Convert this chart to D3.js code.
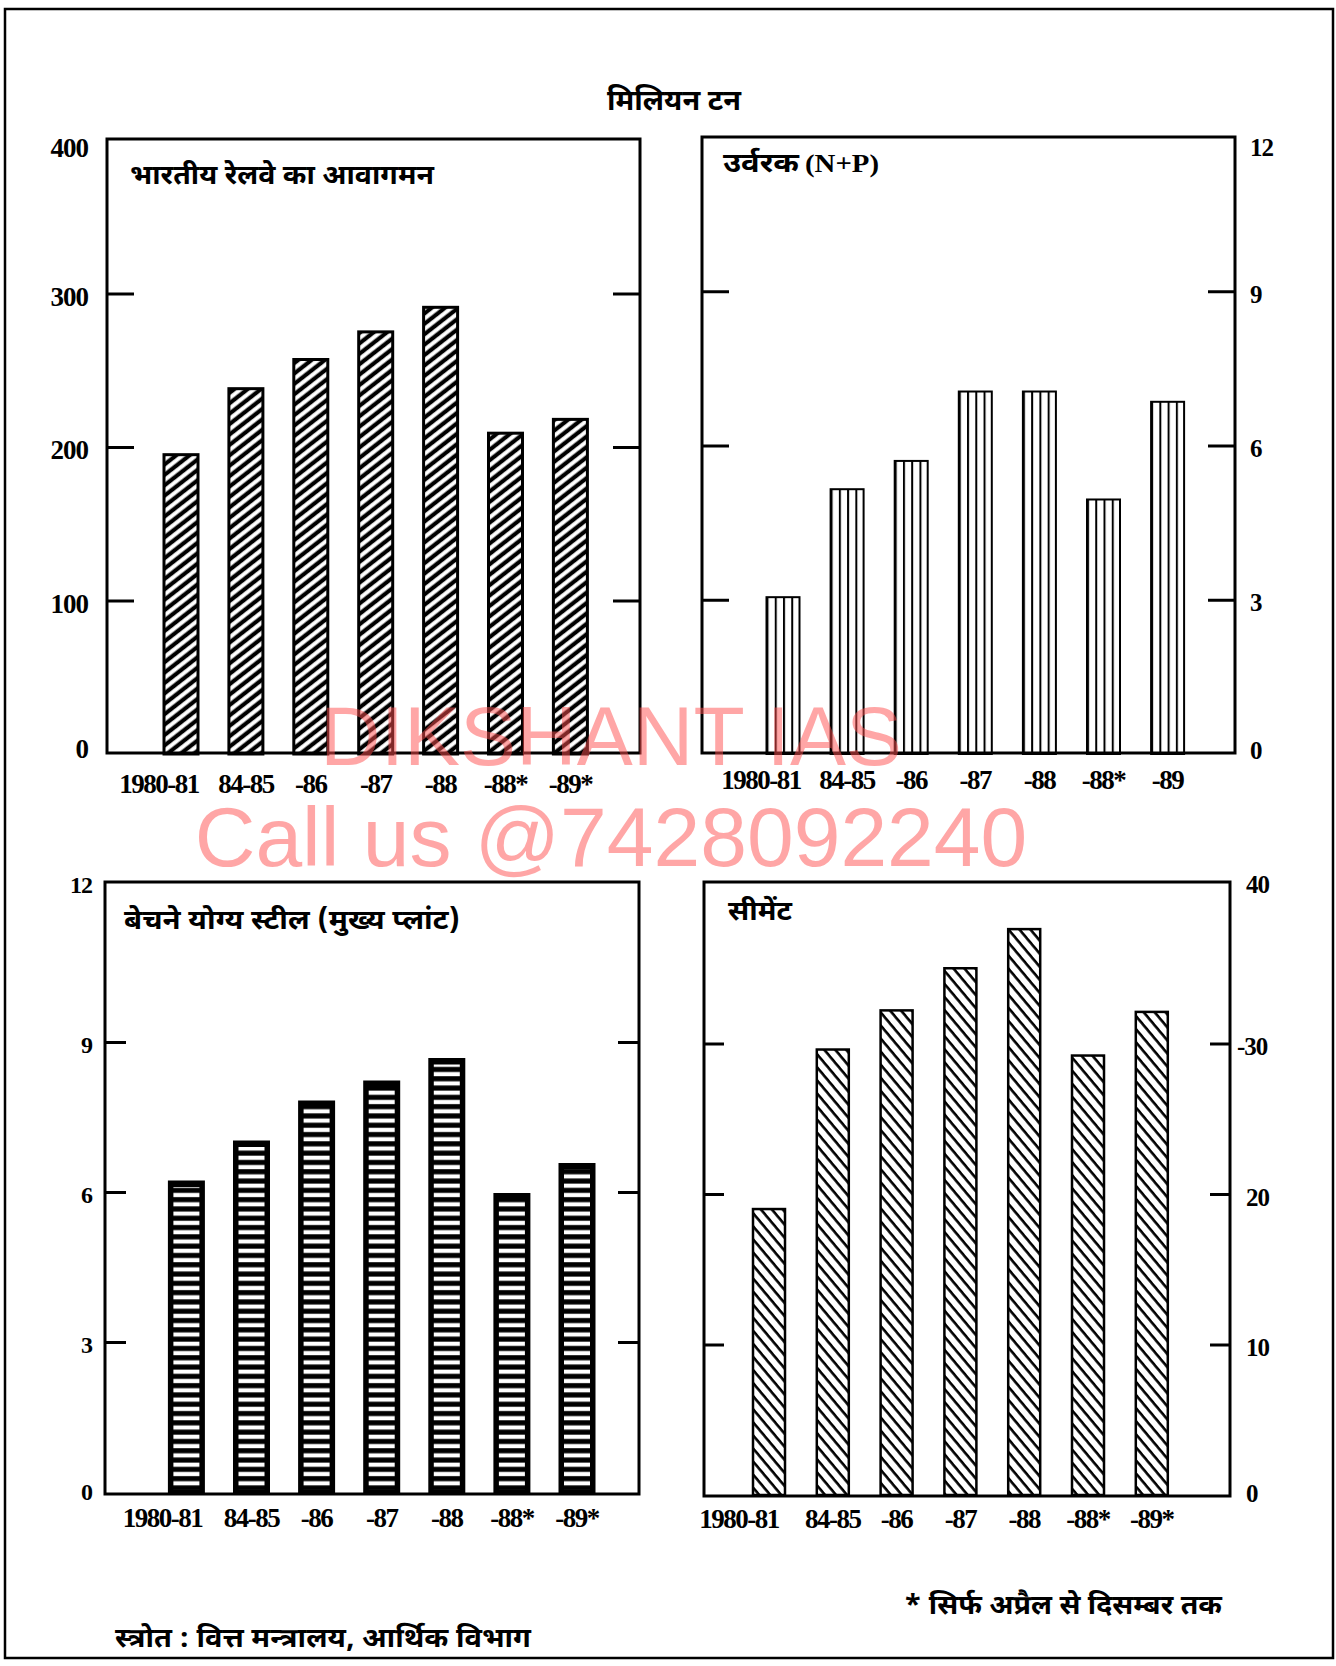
<!DOCTYPE html>
<html><head><meta charset="utf-8">
<script src="https://cdn.jsdelivr.net/npm/d3@7"></script>
<style>body{margin:0;background:#fff}</style>
</head><body><svg id="c" width="1336" height="1666"></svg>
<script>
// ---------------- DATA ----------------
const years = ["1980-81","1984-85","1985-86","1986-87","1987-88","1987-88*","1988-89*"];
const railLabels   = ["1980-81","84-85","-86","-87","-88","-88*","-89*"];
const fertLabels   = ["1980-81","84-85","-86","-87","-88","-88*","-89"];
const steelLabels  = ["1980-81","84-85","-86","-87","-88","-88*","-89*"];
const cementLabels = ["1980-81","84-85","-86","-87","-88","-88*","-89*"];

const railValues   = [195, 238, 257, 275, 291, 209, 218];
const fertValues   = [3.05, 5.15, 5.7, 7.05, 7.05, 4.95, 6.85];
const steelValues  = [6.2, 7.0, 7.8, 8.2, 8.65, 5.95, 6.55];
const cementValues = [19.0, 29.6, 32.2, 35.0, 37.6, 29.2, 32.1];

const railTicks   = [0, 100, 200, 300, 400];
const fertTicks   = [0, 3, 6, 9, 12];
const steelTicks  = [0, 3, 6, 9, 12];
const cementTicks = [0, 10, 20, 30, 40];
const railTickLabels   = ["0","100","200","300","400"];
const fertTickLabels   = ["0","3","6","9","12"];
const steelTickLabels  = ["0","3","6","9","12"];
const cementTickLabels = ["0","10","20","-30","40"];

const titleText  = "मिलियन टन";
const railTitle  = ["भारतीय रेलवे का आवागमन", ""];
const fertTitle  = ["उर्वरक", " (N+P)"];
const steelTitle = ["बेचने योग्य स्टील (मुख्य प्लांट)", ""];
const cementTitle = ["सीमेंट", ""];
const sourceText = "स्त्रोत : वित्त मन्त्रालय, आर्थिक विभाग";
const noteText   = "* सिर्फ अप्रैल से दिसम्बर तक";
const watermark1 = "DIKSHANT IAS";
const watermark2 = "Call us @7428092240";

// ---------------- LAYOUT ----------------
const svg = d3.select("#c");
const NUM = "'Liberation Serif','Times New Roman',serif";
const DEV = "'Noto Sans Devanagari','Lohit Devanagari','Noto Sans',sans-serif";

const defs = svg.append("defs");
const pUp = defs.append("pattern").attr("id","pUp").attr("patternUnits","userSpaceOnUse")
  .attr("width",12).attr("height",8.2).attr("patternTransform","rotate(-38)");
pUp.append("rect").attr("width",12).attr("height",8.2).attr("fill","#000");
pUp.append("rect").attr("y",2).attr("width",12).attr("height",4).attr("fill","#fff");
const pV = defs.append("pattern").attr("id","pV").attr("patternUnits","objectBoundingBox")
  .attr("width",0.25).attr("height",1);
pV.append("rect").attr("width",40).attr("height",2000).attr("fill","#fff");
pV.append("rect").attr("x",0).attr("width",2).attr("height",2000).attr("fill","#000");
const pH = defs.append("pattern").attr("id","pH").attr("patternUnits","userSpaceOnUse")
  .attr("width",20).attr("height",9.3);
pH.append("rect").attr("width",20).attr("height",9.3).attr("fill","#000");
pH.append("rect").attr("y",2.5).attr("width",20).attr("height",4.2).attr("fill","#fff");
const pDn = defs.append("pattern").attr("id","pDn").attr("patternUnits","userSpaceOnUse")
  .attr("width",12).attr("height",8.4).attr("patternTransform","rotate(50)");
pDn.append("rect").attr("width",12).attr("height",8.4).attr("fill","#fff");
pDn.append("rect").attr("y",0).attr("width",12).attr("height",2.6).attr("fill","#000");

svg.append("rect").attr("x",5).attr("y",9).attr("width",1328).attr("height",1649)
  .attr("fill","none").attr("stroke","#000").attr("stroke-width",2.5);

svg.append("text").attr("x",674).attr("y",110).attr("text-anchor","middle")
  .attr("font-family",DEV).attr("font-weight","bold").attr("font-size",28)
  .attr("textLength",134).attr("lengthAdjust","spacingAndGlyphs")
  .text(titleText);

const panels = [
  {values:railValues, labels:railLabels, ticks:railTicks, tickLabels:railTickLabels, title:railTitle,
   box:[107,139,640,753], yr:[754,140], side:"left", c0:181, step:64.9, bw:34, fill:"url(#pUp)", sw:3,
   tickLen:27, tickPad:19, tickFont:27, maxDy:8, zeroDy:-5, xlabY:784, firstDx:-22,
   titleX:130, titleY:184, titleW:304, inset:false},
  {values:fertValues, labels:fertLabels, ticks:fertTicks, tickLabels:fertTickLabels, title:fertTitle,
   box:[702,137,1235,753], yr:[754,137], side:"right", c0:783, step:64.1, bw:33, fill:"url(#pV)", sw:2,
   tickLen:27, tickPad:15, tickFont:25, maxDy:10, zeroDy:-4, xlabY:780, firstDx:-22,
   titleX:723, titleY:172, titleW:76, inset:false},
  {values:steelValues, labels:steelLabels, ticks:steelTicks, tickLabels:steelTickLabels, title:steelTitle,
   box:[105,882,639,1494], yr:[1492,892], side:"left", c0:186.4, step:65.1, bw:34, fill:"#000", sw:3,
   tickLen:21, tickPad:13, tickFont:24, maxDy:-7, zeroDy:0, xlabY:1518, firstDx:-24,
   titleX:124, titleY:929, titleW:336, inset:true},
  {values:cementValues, labels:cementLabels, ticks:cementTicks, tickLabels:cementTickLabels, title:cementTitle,
   box:[704,882,1230,1496], yr:[1495,893], side:"right", c0:769, step:63.8, bw:32, fill:"url(#pDn)", sw:2.5,
   tickLen:20, tickPad:16, tickFont:25, maxDy:-9, zeroDy:-2, xlabY:1519, firstDx:-30,
   titleX:728, titleY:920, titleW:64, inset:false}
];

panels.forEach(p => {
  const [bx0,by0,bx1,by1] = p.box;
  const y = d3.scaleLinear().domain([0, p.ticks[p.ticks.length-1]]).range(p.yr);
  const pad = 1 - p.bw/p.step;
  const r0 = p.c0 - p.step/2;
  const x = d3.scaleBand().domain(years).range([r0, r0 + p.step*years.length])
    .paddingInner(pad).paddingOuter(pad/2);
  const g = svg.append("g");

  const bars = g.selectAll("g.bar").data(p.values).join("g").attr("class","bar");
  bars.append("rect")
    .attr("x",(d,i)=>x(years[i])).attr("width",x.bandwidth())
    .attr("y",d=>y(d)).attr("height",d=>p.yr[0]-y(d))
    .attr("fill",p.fill).attr("stroke","#000").attr("stroke-width",p.sw);
  if (p.inset) {
    bars.append("rect")
      .attr("x",(d,i)=>x(years[i])+4).attr("width",x.bandwidth()-8)
      .attr("y",d=>y(d)+5).attr("height",d=>Math.max(0,p.yr[0]-y(d)-7))
      .attr("fill","url(#pH)");
  }

  const maxV = p.ticks[p.ticks.length-1];
  const lab = (d)=>p.tickLabels[p.ticks.indexOf(d)];
  const mainAxis = (p.side==="left" ? d3.axisLeft(y) : d3.axisRight(y))
    .tickValues(p.ticks).tickSize(-p.tickLen).tickPadding(p.tickPad).tickFormat(lab);
  const otherAxis = (p.side==="left" ? d3.axisRight(y) : d3.axisLeft(y))
    .tickValues(p.ticks).tickSize(-p.tickLen).tickFormat("");
  const gm = g.append("g").attr("transform",`translate(${p.side==="left"?bx0:bx1},0)`).call(mainAxis);
  const go = g.append("g").attr("transform",`translate(${p.side==="left"?bx1:bx0},0)`).call(otherAxis);
  [gm,go].forEach(a=>{
    a.select(".domain").remove();
    a.selectAll(".tick line").attr("stroke","#000").attr("stroke-width",3)
      .attr("display",d=>(d===0||d===maxV)?"none":null);
  });
  gm.selectAll(".tick text").attr("font-family",NUM).attr("font-weight","bold")
    .attr("font-size",p.tickFont).attr("letter-spacing",-1).attr("fill","#000")
    .attr("dy",d=> d===maxV ? `${0.32*p.tickFont+p.maxDy}px` : d===0 ? `${0.32*p.tickFont+p.zeroDy}px` : `${0.32*p.tickFont+3}px`)
    .attr("dx",function(d){ return (p.side==="right" && lab(d).startsWith("-")) ? -9 : 0; });

  const xa = d3.axisBottom(x).tickSize(0).tickFormat((d)=>p.labels[years.indexOf(d)]);
  const gx = g.append("g").attr("transform",`translate(0,${p.xlabY})`).call(xa);
  gx.select(".domain").remove();
  gx.selectAll(".tick text").attr("y",0).attr("dy","0.35em")
    .attr("font-family",NUM).attr("font-weight","bold").attr("font-size",27)
    .attr("letter-spacing",-1.5).attr("fill","#000")
    .attr("dx",(d,i)=> i===0 ? p.firstDx : 0);

  g.append("rect").attr("x",bx0).attr("y",by0).attr("width",bx1-bx0).attr("height",by1-by0)
    .attr("fill","none").attr("stroke","#000").attr("stroke-width",3);

  const t = g.append("text").attr("x",p.titleX).attr("y",p.titleY)
    .attr("font-weight","bold");
  t.append("tspan").attr("font-family",DEV).attr("font-size",27)
    .attr("textLength",p.titleW).attr("lengthAdjust","spacingAndGlyphs").text(p.title[0]);
  if (p.title[1]) {
    t.append("tspan").attr("x",p.titleX + p.titleW + 6).attr("font-family",NUM)
      .attr("font-size",26).attr("textLength",74).attr("lengthAdjust","spacingAndGlyphs")
      .text(p.title[1].trim());
  }
});

svg.append("text").attr("x",115).attr("y",1647).attr("font-family",DEV).attr("font-weight","bold")
  .attr("font-size",27).attr("textLength",416).attr("lengthAdjust","spacingAndGlyphs").text(sourceText);
svg.append("text").attr("x",904).attr("y",1614).attr("font-family",DEV).attr("font-weight","bold")
  .attr("font-size",27).attr("textLength",318).attr("lengthAdjust","spacingAndGlyphs").text(noteText);

const wm = svg.append("g").attr("fill","rgb(255,80,80)").attr("opacity",0.5)
  .attr("font-family","'Liberation Sans',Arial,sans-serif").attr("text-anchor","middle");
wm.append("text").attr("x",611).attr("y",765).attr("font-size",84).text(watermark1);
wm.append("text").attr("x",611).attr("y",866).attr("font-size",84).text(watermark2);
</script></body></html>
